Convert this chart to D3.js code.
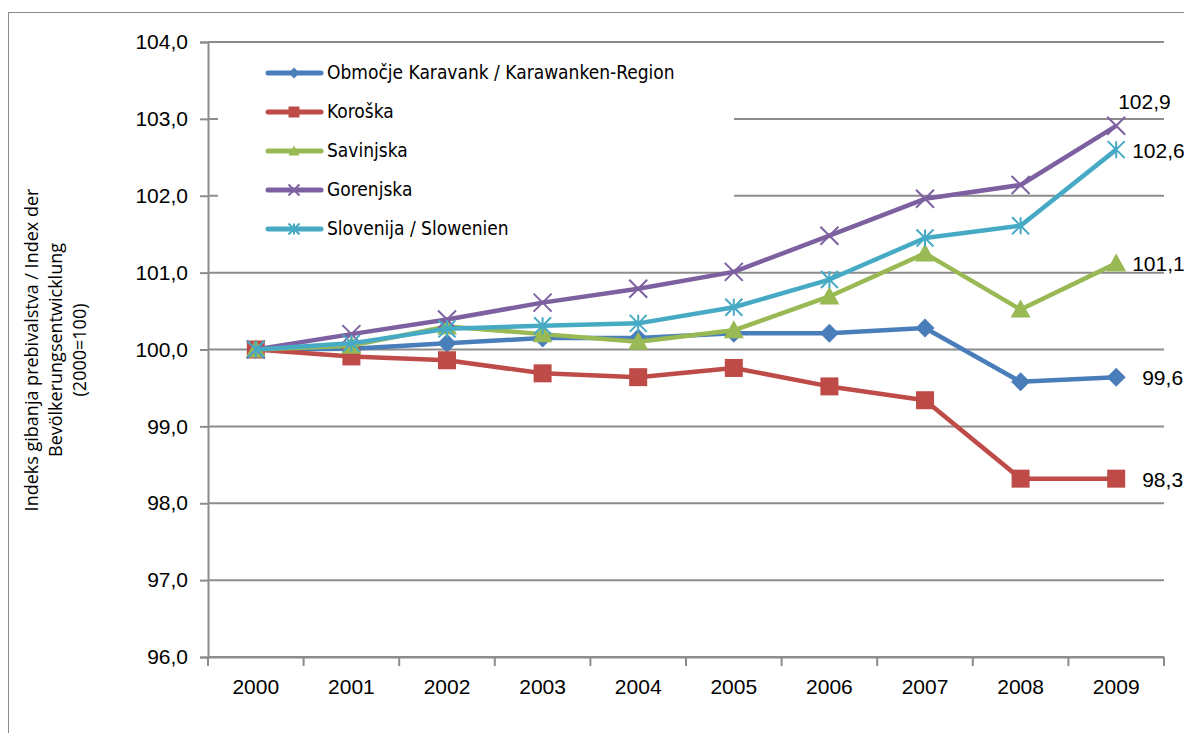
<!DOCTYPE html>
<html>
<head>
<meta charset="utf-8">
<script src="https://cdn.jsdelivr.net/npm/d3@7"></script>
<style>
  body { margin: 0; background: #fff; }
  svg { display: block; }
</style>
</head>
<body>
<svg id="chart" width="1184" height="733"></svg>
<script>
// data
const years = ['2000', '2001', '2002', '2003', '2004', '2005', '2006', '2007', '2008', '2009'];
const seriesNames = ['Območje Karavank / Karawanken-Region', 'Koroška', 'Savinjska', 'Gorenjska', 'Slovenija / Slowenien'];
const karavank = [100, 100.01, 100.08, 100.15, 100.15, 100.21, 100.21, 100.28, 99.58, 99.64];
const koroska = [100, 99.91, 99.86, 99.69, 99.64, 99.76, 99.52, 99.34, 98.32, 98.32];
const savinjska = [100, 100.05, 100.30, 100.20, 100.10, 100.25, 100.69, 101.25, 100.52, 101.12];
const gorenjska = [100, 100.20, 100.39, 100.61, 100.79, 101.01, 101.48, 101.96, 102.14, 102.91];
const slovenija = [100, 100.08, 100.27, 100.31, 100.34, 100.55, 100.91, 101.45, 101.61, 102.60];
const yTicks = [96, 97, 98, 99, 100, 101, 102, 103, 104];
const yTitle = ['Indeks gibanja prebivalstva / Index der', 'Bevölkerungsentwicklung', '(2000=100)'];

const colors = ['#4a7ebb', '#be4b48', '#98b954', '#7d60a0', '#46aac5'];
const markers = ['diamond', 'square', 'triangle', 'cross', 'star'];
const allValues = [karavank, koroska, savinjska, gorenjska, slovenija];
// where the end label sits relative to the last point
const labelOffsets = [[26, 8], [26, 8], [16, 8], [2, -17], [16, 8]];

const svg = d3.select('#chart');
const fmt = v => v.toFixed(1).replace('.', ',');

// outer chart frame
svg.append('rect')
  .attr('x', 8.5).attr('y', 12.5)
  .attr('width', 1300).attr('height', 900)
  .attr('fill', 'none').attr('stroke', '#8a8a8a').attr('stroke-width', 1);

const x = d3.scaleBand().domain(years).range([208, 1164]);
const y = d3.scaleLinear().domain([96, 104]).range([657, 42]);
const cx = d => x(d) + x.bandwidth() / 2;

// gridlines
svg.append('g')
  .selectAll('line')
  .data(yTicks)
  .enter()
  .append('line')
  .attr('x1', 208).attr('x2', 1164)
  .attr('y1', d => y(d)).attr('y2', d => y(d))
  .attr('stroke', '#8c8c8c').attr('stroke-width', 2);

// y axis
const yAxis = svg.append('g')
  .attr('transform', 'translate(208,0)')
  .call(d3.axisLeft(y).tickValues(yTicks).tickFormat(fmt).tickSize(8).tickPadding(12));
yAxis.select('.domain').attr('stroke', '#8c8c8c').attr('stroke-width', 2);
yAxis.selectAll('.tick line').attr('stroke', '#8c8c8c').attr('stroke-width', 2);
yAxis.selectAll('.tick text')
  .attr('font-family', 'Liberation Sans, Arial, sans-serif')
  .attr('font-size', 21).attr('fill', '#000');

// x axis: labels centred in the bands, tick marks on band edges
const xAxis = svg.append('g')
  .attr('transform', 'translate(0,657)')
  .call(d3.axisBottom(x).tickSize(0).tickPadding(22));
xAxis.select('.domain').attr('stroke', '#8c8c8c').attr('stroke-width', 2);
xAxis.selectAll('.tick text')
  .attr('font-family', 'Liberation Sans, Arial, sans-serif')
  .attr('font-size', 21).attr('fill', '#000');
const edges = years.map(d => x(d)).concat([x.range()[1]]);
xAxis.selectAll('line.edge')
  .data(edges)
  .enter()
  .append('line')
  .attr('class', 'edge')
  .attr('x1', d => d).attr('x2', d => d)
  .attr('y1', 0).attr('y2', 9)
  .attr('stroke', '#8c8c8c').attr('stroke-width', 2);

// y title
const title = svg.append('text')
  .attr('transform', 'translate(38,350) rotate(-90)')
  .attr('text-anchor', 'middle')
  .attr('font-family', 'Open Sans, sans-serif')
  .attr('font-size', 18).attr('fill', '#000');
yTitle.forEach((t, i) => {
  title.append('tspan').attr('x', 0).attr('dy', i === 0 ? 0 : 24).text(t);
});

// marker drawing
function drawMarker(g, type, color, size) {
  const h = size / 2;
  if (type === 'diamond') {
    g.append('path').attr('d', `M0,${-h}L${h},0L0,${h}L${-h},0Z`)
      .attr('fill', color);
  } else if (type === 'square') {
    g.append('rect').attr('x', -h).attr('y', -h)
      .attr('width', size).attr('height', size).attr('fill', color);
  } else if (type === 'triangle') {
    g.append('path').attr('d', `M0,${-h}L${h},${h * 0.8}L${-h},${h * 0.8}Z`)
      .attr('fill', color);
  } else if (type === 'cross') {
    g.append('path').attr('d', `M${-h},${-h}L${h},${h}M${-h},${h}L${h},${-h}`)
      .attr('stroke', color).attr('stroke-width', 2);
  } else if (type === 'star') {
    g.append('path').attr('d', `M${-h},${-h}L${h},${h}M${-h},${h}L${h},${-h}M0,${-h}L0,${h}`)
      .attr('stroke', color).attr('stroke-width', 2);
  }
}
const markerSize = [19, 18, 20, 18, 17];

// legend (white box hides gridlines behind it)
svg.append('rect')
  .attr('x', 218).attr('y', 50).attr('width', 516).attr('height', 200)
  .attr('fill', '#fff');
const legend = svg.append('g');
seriesNames.forEach((name, i) => {
  const ly = 73 + i * 39;
  legend.append('line')
    .attr('x1', 268).attr('x2', 321).attr('y1', ly).attr('y2', ly)
    .attr('stroke', colors[i]).attr('stroke-width', 5).attr('stroke-linecap', 'round');
  drawMarker(legend.append('g').attr('transform', `translate(294,${ly})`), markers[i], colors[i], 11);
  legend.append('text')
    .attr('x', 327).attr('y', ly + 6)
    .attr('font-family', 'DejaVu Sans Condensed, DejaVu Sans, sans-serif')
    .attr('font-size', 19).attr('fill', '#000')
    .text(name);
});

// series
const line = d3.line().x((d, i) => cx(years[i])).y(d => y(d));
allValues.forEach((vals, i) => {
  const g = svg.append('g');
  g.append('path')
    .datum(vals)
    .attr('d', line)
    .attr('fill', 'none').attr('stroke', colors[i])
    .attr('stroke-width', 4.5).attr('stroke-linejoin', 'round');
  g.selectAll('g.m')
    .data(vals)
    .enter()
    .append('g')
    .attr('class', 'm')
    .attr('transform', (d, j) => `translate(${cx(years[j])},${y(d)})`)
    .each(function () { drawMarker(d3.select(this), markers[i], colors[i], markerSize[i]); });
  const last = vals[vals.length - 1];
  g.append('text')
    .attr('x', cx(years[years.length - 1]) + labelOffsets[i][0])
    .attr('y', y(last) + labelOffsets[i][1])
    .attr('font-family', 'Liberation Sans, Arial, sans-serif')
    .attr('font-size', 21).attr('fill', '#000')
    .text(fmt(last));
});
</script>
</body>
</html>
